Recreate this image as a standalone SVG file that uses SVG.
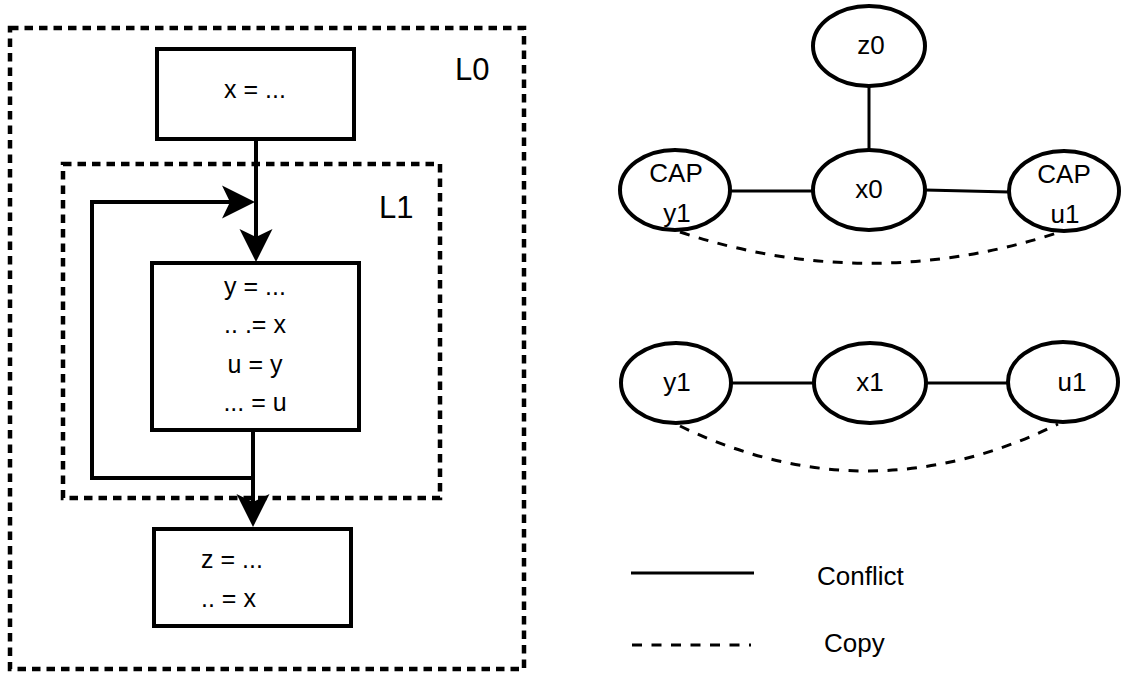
<svg xmlns="http://www.w3.org/2000/svg" width="1121" height="675" viewBox="0 0 1121 675">
  <style>
    .region{fill:none;stroke:#000;stroke-width:4.5;stroke-dasharray:8.5 6}
    .box{fill:#fff;stroke:#000;stroke-width:4}
    .flow{fill:none;stroke:#000;stroke-width:4}
    .code{font-family:"Liberation Sans",Arial,sans-serif;font-size:25px;fill:#000}
    .lbl{font-family:"Liberation Sans",Arial,sans-serif;font-size:31px;fill:#000}
    .node ellipse{fill:#fff;stroke:#000;stroke-width:4}
    .name{font-family:"Liberation Sans",Arial,sans-serif;font-size:26px;text-anchor:middle;fill:#000}
    .conflict{fill:none;stroke:#000;stroke-width:3}
    .copy{fill:none;stroke:#000;stroke-width:3;stroke-dasharray:10 9.5}
    .legend text{font-family:"Liberation Sans",Arial,sans-serif;font-size:26px;fill:#000}
  </style>
  <defs>
    <marker id="head" markerUnits="userSpaceOnUse" viewBox="-22 -17 35 34" refX="0" refY="0" markerWidth="35" markerHeight="34" orient="auto">
      <path d="M12,0 L-21,-16.5 L-13,0 L-21,16.5 Z" fill="#000"/>
    </marker>
  </defs>
  <rect width="1121" height="675" fill="#fff"/>

  <!-- loop regions -->
  <g id="loop-L0">
    <rect class="region" x="10" y="28" width="514" height="641"/>
    <text class="lbl" x="455" y="80">L0</text>
  </g>
  <g id="loop-L1">
    <rect class="region" x="63" y="164" width="377" height="334"/>
    <text class="lbl" x="379" y="218">L1</text>
  </g>

  <!-- basic blocks -->
  <g id="block-entry">
    <rect class="box" x="157" y="49" width="197" height="90"/>
    <text class="code" x="255" y="98" text-anchor="middle">x = ...</text>
  </g>
  <g id="block-body">
    <rect class="box" x="152" y="263" width="207" height="167"/>
    <g class="code" text-anchor="middle">
      <text x="255" y="295">y = ...</text>
      <text x="255" y="333" xml:space="preserve">.. .= x</text>
      <text x="255" y="373">u = y</text>
      <text x="255" y="411">... = u</text>
    </g>
  </g>
  <g id="block-exit">
    <rect class="box" x="154" y="529" width="197" height="97"/>
    <text class="code" x="201" y="568">z = ...</text>
    <text class="code" x="201" y="607">.. = x</text>
  </g>

  <!-- control-flow edges -->
  <g id="flow-edges">
    <path class="flow" d="M256,139 V250" marker-end="url(#head)"/>
    <path class="flow" d="M253,478 H92 V202 H243" marker-end="url(#head)"/>
    <path class="flow" d="M253,430 V515" marker-end="url(#head)"/>
  </g>

  <!-- interference graph edges -->
  <g id="graph-edges">
    <path class="conflict" d="M869,86 V150"/>
    <path class="conflict" d="M730,191 H813"/>
    <path class="conflict" d="M925,190 L1009,192"/>
    <path class="conflict" d="M731,383 H814"/>
    <path class="conflict" d="M926,383 H1008"/>
    <path class="copy" d="M680,232 Q868,294 1057,233"/>
    <path class="copy" d="M680,426 Q869,517 1058,424"/>
  </g>

  <!-- graph nodes -->
  <g id="node-z0" class="node">
    <ellipse cx="869" cy="46" rx="56" ry="40"/>
    <text class="name" x="871" y="54">z0</text>
  </g>
  <g id="node-x0" class="node">
    <ellipse cx="869" cy="190" rx="56" ry="40"/>
    <text class="name" x="869" y="198">x0</text>
  </g>
  <g id="node-cap-y1" class="node">
    <ellipse cx="675" cy="190" rx="55" ry="40"/>
    <text class="name" x="676" y="182">CAP</text>
    <text class="name" x="677" y="222">y1</text>
  </g>
  <g id="node-cap-u1" class="node">
    <ellipse cx="1064" cy="191" rx="55" ry="40"/>
    <text class="name" x="1064" y="183">CAP</text>
    <text class="name" x="1065" y="223">u1</text>
  </g>
  <g id="node-y1" class="node">
    <ellipse cx="676" cy="383" rx="55" ry="40"/>
    <text class="name" x="677" y="391">y1</text>
  </g>
  <g id="node-x1" class="node">
    <ellipse cx="870" cy="383" rx="56" ry="40"/>
    <text class="name" x="870" y="391">x1</text>
  </g>
  <g id="node-u1" class="node">
    <ellipse cx="1063" cy="382" rx="55" ry="40"/>
    <text class="name" x="1072" y="391">u1</text>
  </g>

  <!-- legend -->
  <g id="legend" class="legend">
    <path class="conflict" d="M631,573 H754"/>
    <text x="817" y="585">Conflict</text>
    <path class="copy" d="M632,645 H751"/>
    <text x="824" y="652">Copy</text>
  </g>
</svg>
